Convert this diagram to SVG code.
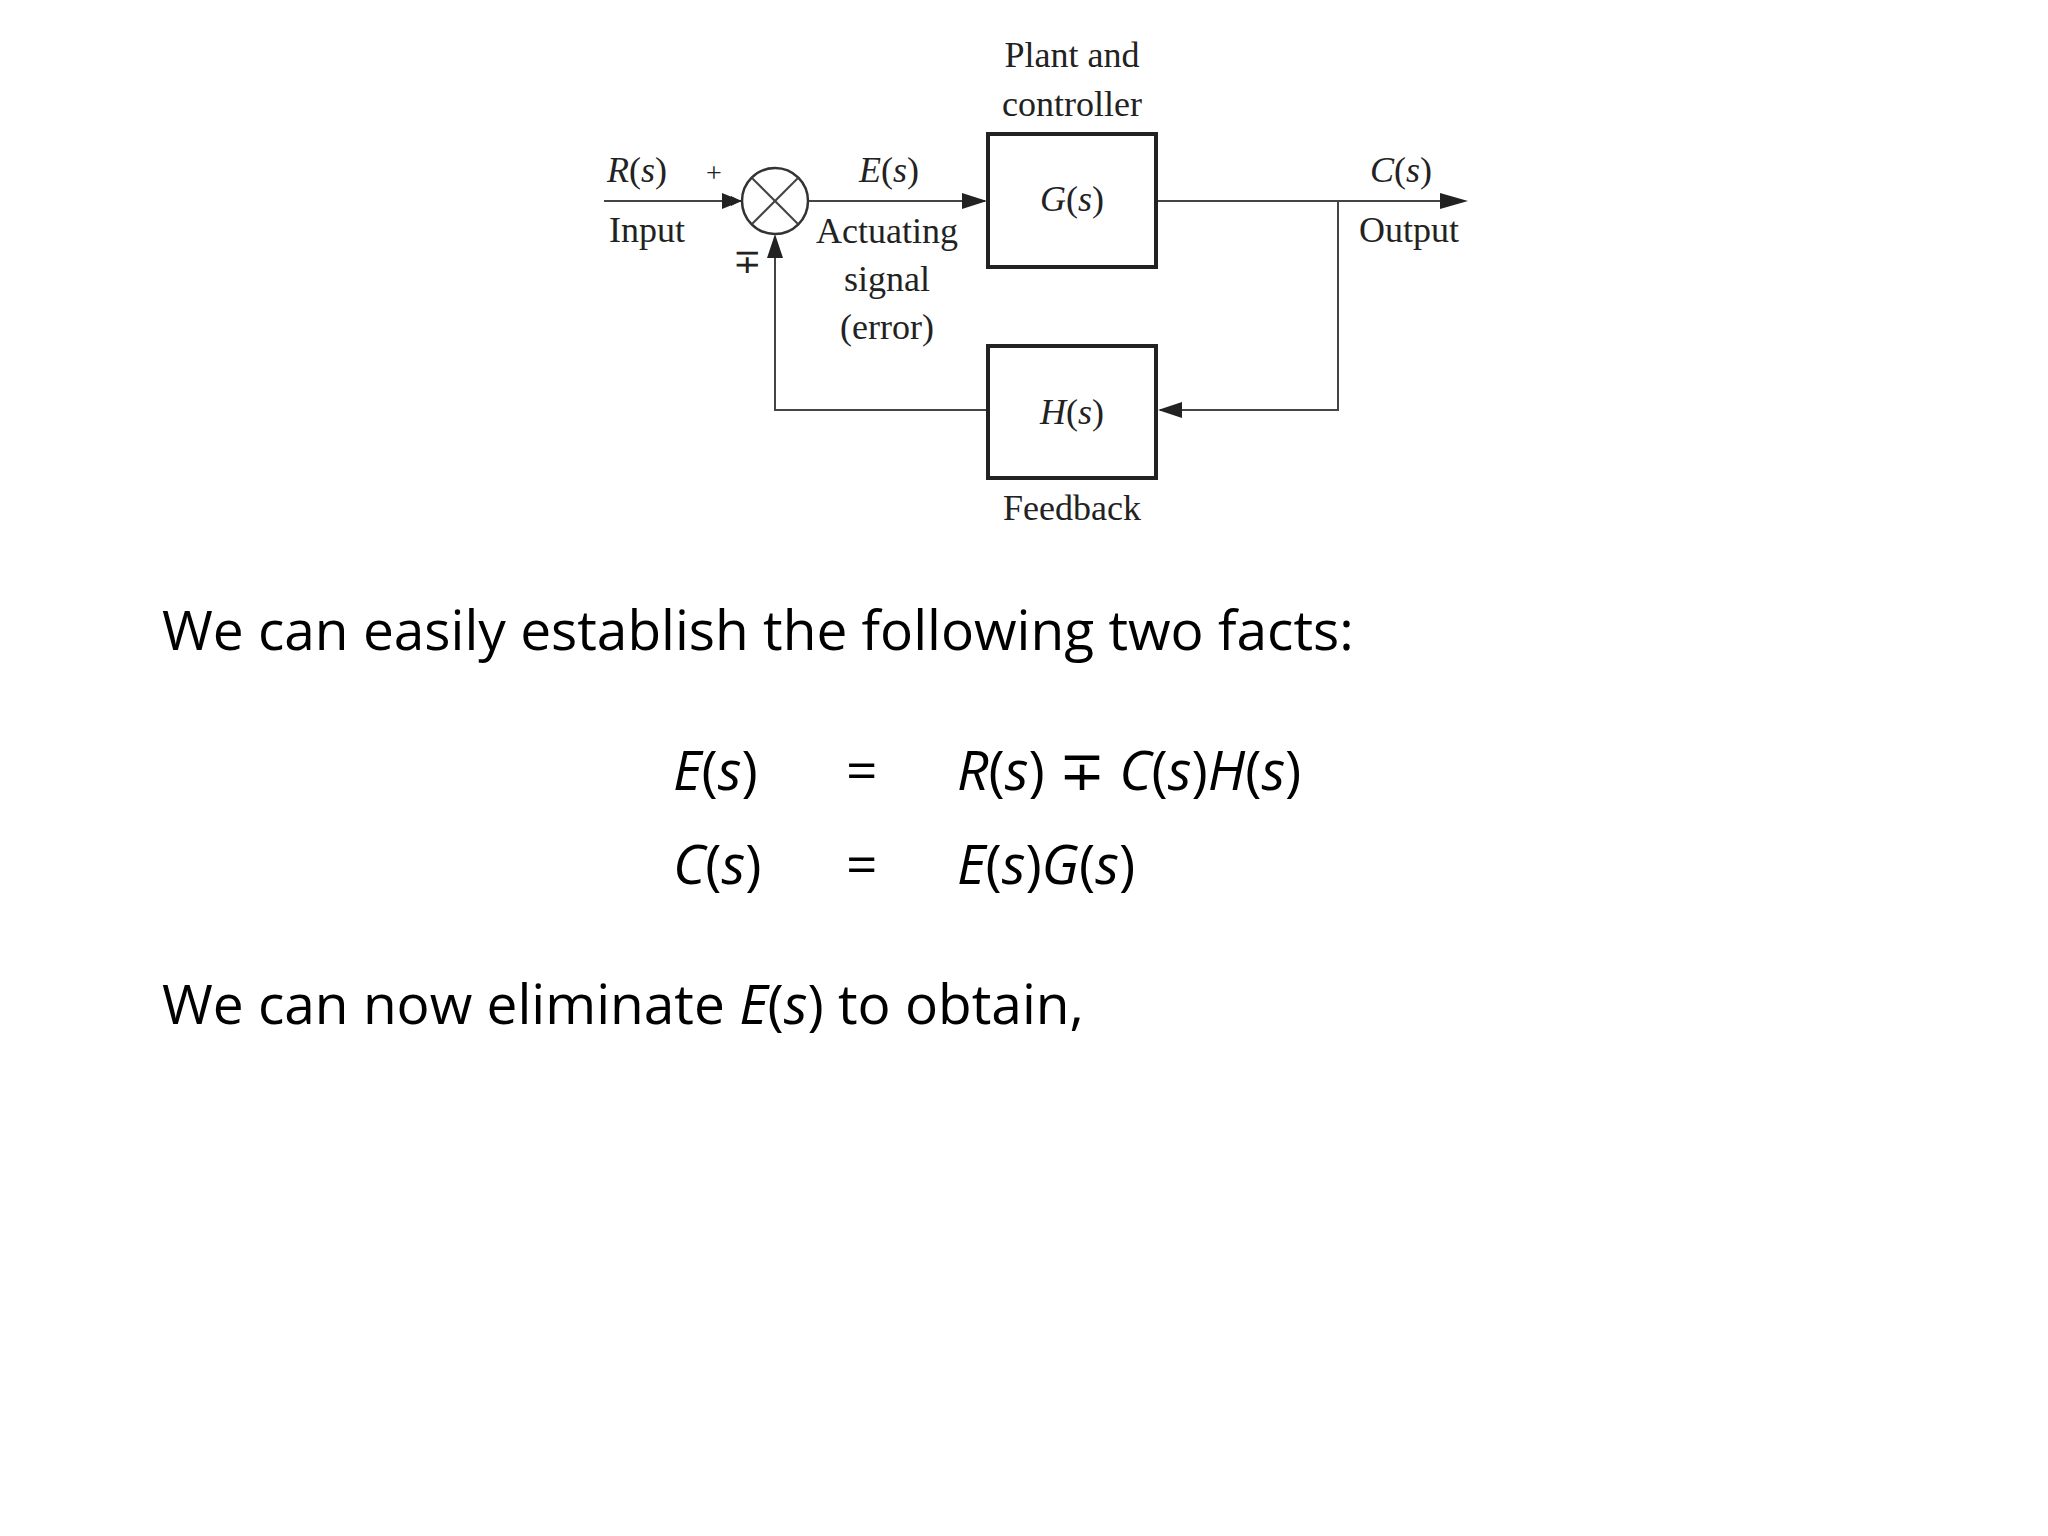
<svg xmlns="http://www.w3.org/2000/svg" width="2048" height="1536" viewBox="0 0 2048 1536">
<defs>
<marker id="ah" viewBox="0 0 10 10" refX="10" refY="5" markerWidth="10" markerHeight="10" markerUnits="userSpaceOnUse" orient="auto"><path d="M0,0 L10,5 L0,10 z" fill="#222"/></marker>
<style>
.d{font-family:"Liberation Serif",serif;font-size:36px;fill:#222;text-anchor:middle}
.i{font-style:italic}
.w{font-family:"Open Sans","Liberation Sans",sans-serif;font-size:55px;fill:#000}
.ln{stroke:#444;stroke-width:2;fill:none}
.bx{stroke:#222;stroke-width:4;fill:#fff}
</style>
</defs>
<rect width="2048" height="1536" fill="#fff"/>
<g id="connectors">
<line class="ln" x1="604" y1="201" x2="741" y2="201" marker-end="url(#ah)" style="stroke-width:2"/>
<path d="M722,193 L742,201 L722,209 z" fill="#222"/>
<line class="ln" x1="808" y1="201" x2="985" y2="201"/>
<path d="M962,193 L987,201 L962,209 z" fill="#222"/>
<line class="ln" x1="1156" y1="201" x2="1445" y2="201"/>
<path d="M1440,193 L1468,201 L1440,209 z" fill="#222"/>
<polyline class="ln" points="1338,201 1338,410 1160,410"/>
<path d="M1182,402 L1158,410 L1182,418 z" fill="#222"/>
<polyline class="ln" points="987,410 775,410 775,240"/>
<path d="M767,258 L775,234 L783,258 z" fill="#222"/>
</g>
<g id="sum">
<circle cx="775" cy="201" r="33" fill="#fff" stroke="#333" stroke-width="2.5"/>
<line class="ln" x1="752" y1="178" x2="798" y2="224"/>
<line class="ln" x1="798" y1="178" x2="752" y2="224"/>
<text class="d" x="714" y="182" style="font-size:28px">+</text>
<text class="d" x="747" y="273" style="font-size:34px">∓</text>
</g>
<g id="G">
<rect class="bx" x="988" y="134" width="168" height="133"/>
<text class="d" x="1072" y="211"><tspan class="i">G</tspan>(<tspan class="i">s</tspan>)</text>
<text class="d" x="1072" y="67">Plant and</text>
<text class="d" x="1072" y="116">controller</text>
</g>
<g id="H">
<rect class="bx" x="988" y="346" width="168" height="132"/>
<text class="d" x="1072" y="424"><tspan class="i">H</tspan>(<tspan class="i">s</tspan>)</text>
<text class="d" x="1072" y="520">Feedback</text>
</g>
<g id="labels">
<text class="d" x="637" y="182"><tspan class="i">R</tspan>(<tspan class="i">s</tspan>)</text>
<text class="d" x="647" y="242">Input</text>
<text class="d" x="889" y="182"><tspan class="i">E</tspan>(<tspan class="i">s</tspan>)</text>
<text class="d" x="887" y="243">Actuating</text>
<text class="d" x="887" y="291">signal</text>
<text class="d" x="887" y="339">(error)</text>
<text class="d" x="1401" y="182"><tspan class="i">C</tspan>(<tspan class="i">s</tspan>)</text>
<text class="d" x="1409" y="242">Output</text>
</g>
<g id="text">
<text class="w" x="162" y="650">We can easily establish the following two facts:</text>
<text class="w" x="673" y="790"><tspan font-style="italic">E</tspan>(<tspan font-style="italic">s</tspan>)</text>
<text class="w" x="846" y="790">=</text>
<text class="w" x="957" y="790"><tspan font-style="italic">R</tspan>(<tspan font-style="italic">s</tspan>) ∓ <tspan font-style="italic">C</tspan>(<tspan font-style="italic">s</tspan>)<tspan font-style="italic">H</tspan>(<tspan font-style="italic">s</tspan>)</text>
<text class="w" x="673" y="884"><tspan font-style="italic">C</tspan>(<tspan font-style="italic">s</tspan>)</text>
<text class="w" x="846" y="884">=</text>
<text class="w" x="957" y="884"><tspan font-style="italic">E</tspan>(<tspan font-style="italic">s</tspan>)<tspan font-style="italic">G</tspan>(<tspan font-style="italic">s</tspan>)</text>
<text class="w" x="162" y="1024">We can now eliminate <tspan font-style="italic">E</tspan>(<tspan font-style="italic">s</tspan>) to obtain,</text>
</g>
</svg>
